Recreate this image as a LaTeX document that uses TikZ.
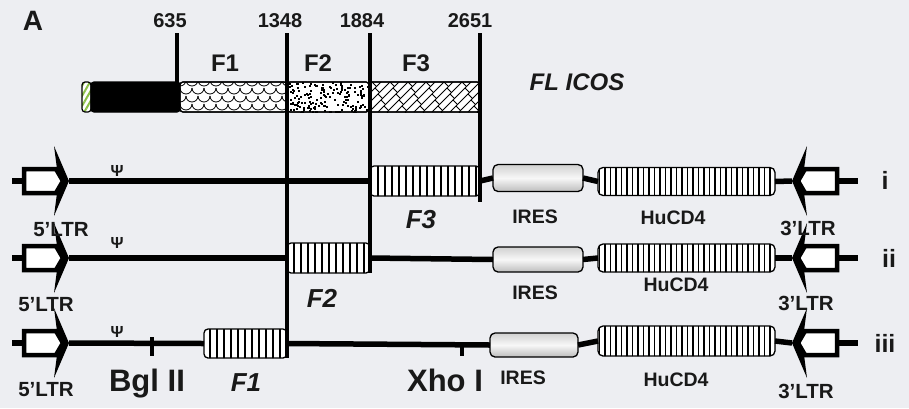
\documentclass[tikz,border=0pt]{standalone}
\usepackage{fontspec}
\setmainfont{Liberation Sans}
\usetikzlibrary{patterns,patterns.meta}
\definecolor{bg}{RGB}{237,238,242}
\definecolor{lgreen}{RGB}{140,192,72}
\newcommand{\fsz}[1]{\fontsize{#1}{#1}\selectfont\bfseries}
\begin{document}
\begin{tikzpicture}[x=1pt,y=-1pt,
  dna/.style={line width=5.5pt},
  vline/.style={line width=3.5pt},
  cutmark/.style={line width=3.5pt},
  lbl/.style={inner sep=0pt, outer sep=0pt, text=black!90},
  num/.style={lbl, font=\fsz{20pt}},
  seglab/.style={lbl, font=\fsz{24pt}},
  fraglab/.style={lbl, font=\fsz{26pt}\itshape},
  ltrlab/.style={lbl, font=\fsz{20.5pt}},
  boxlab/.style={lbl, font=\fsz{19.5pt}},
  enzlab/.style={lbl, font=\fsz{31pt}, anchor=base},
  rowlab/.style={lbl, font=\fsz{25pt}},
  psilab/.style={lbl, font=\fsz{16pt}},
  seg/.style={rectangle, rounded corners=3pt, draw, line width=1.2pt, minimum height=30pt, inner sep=0pt, outer sep=0pt, fill=white},
  fbox/.style={rectangle, rounded corners=4pt, draw, line width=1.3pt, inner sep=0pt, outer sep=0pt, minimum height=30pt, preaction={fill=white}, pattern={Lines[angle=90,distance=7pt,line width=1.2pt]}},
  cdbox/.style={rectangle, rounded corners=5pt, draw, line width=1.3pt, inner sep=0pt, outer sep=0pt, minimum width=177pt, minimum height=28pt, preaction={fill=white}, pattern={Lines[angle=90,distance=5.5pt,line width=1.2pt]}},
  iresbox/.style={rectangle, rounded corners=5pt, draw, line width=1.3pt, inner sep=0pt, outer sep=0pt, minimum height=26pt, top color=black!18, bottom color=black!26, middle color=black!3},
  ltr/.pic={
    \fill (-15,-35) -- (0,0) -- (-15,35) -- (-12,12) -- (-12,-12) -- cycle;
    \draw[line width=4.5pt, fill=white, line join=miter] (-45,-12) -- (-13,-12) -- (-6,0) -- (-13,12) -- (-45,12) -- cycle;
    \coordinate (-tip) at (0,0);
    \coordinate (-back) at (-45,0);
  }
]
\fill[bg] (0,0) rectangle (909,408);
\useasboundingbox (0,0) rectangle (909,408);

% ---------- top bar ----------
\node[seg, minimum width=9pt, preaction={fill=white}, pattern={Lines[angle=60,distance=5pt,line width=2pt]}, pattern color=lgreen] (gs) at (86.5,97) {};
\node[seg, minimum width=89pt, fill=black] (bs) at (135.5,97) {};
\node[seg, minimum width=107pt] (f1s) at (233.5,97) {};
\node[seg, minimum width=82pt] (f2s) at (328,97) {};
\node[seg, minimum width=111pt] (f3s) at (424.5,97) {};

\begin{scope}
  \clip[rounded corners=3pt] (f1s.north west) rectangle (f1s.south east);
  \foreach \r in {0,...,4}{
    \foreach \c in {0,...,9}{
      \draw[line width=0.8pt] ({180+\c*12+mod(\r,2)*6-6},{80+\r*8}) arc[start angle=180, end angle=0, radius=6];
    }
  }
\end{scope}
\pgfmathsetseed{7}
\begin{scope}
  \clip (f2s.north west) rectangle (f2s.south east);
  \foreach \i in {1,...,170}{
    \pgfmathsetmacro\dx{287+82*rnd}
    \pgfmathsetmacro\dy{82+30*rnd}
    \fill (\dx,\dy) rectangle ++(2,2);
  }
\end{scope}
\begin{scope}
  \clip (f3s.north west) rectangle (f3s.south east);
  \foreach \k in {0,...,18}{
    \pgfmathsetmacro\xo{333+9*\k}
    \draw[line width=0.8pt] (\xo,112) -- ++(32,-32);
    \foreach \t in {0,12,24}{
      \draw[line width=0.8pt] ({\xo+\t+6*mod(\k,2)},{112-\t-6*mod(\k,2)}) -- ++(4.5,4.5);
    }
  }
\end{scope}
\draw[line width=1.2pt, rounded corners=3pt] (f1s.north west) rectangle (f1s.south east);
\draw[line width=1.2pt, rounded corners=3pt] (f2s.north west) rectangle (f2s.south east);
\draw[line width=1.2pt, rounded corners=3pt] (f3s.north west) rectangle (f3s.south east);

\node[lbl, font=\fsz{28pt}] (la) at (33,21) {A};
\node[num] (n635) at (170,21) {635};
\node[num] (n1348) at (280,21) {1348};
\node[num] (n1884) at (362,21) {1884};
\node[num] (n2651) at (470,21) {2651};
\node[seglab] (sf1) at (225,63) {F1};
\node[seglab] (sf2) at (318,63) {F2};
\node[seglab] (sf3) at (416,63) {F3};
\node[lbl, font=\fsz{24pt}\itshape] (flicos) at (577,82) {FL ICOS};

% ---------- rows ----------
% row i
\pic (L1) at (69,181) {ltr};
\pic[xscale=-1] (R1) at (792,181) {ltr};
\coordinate (L1end) at (12,181);
\coordinate (R1end) at (858,181);
\node[fbox, minimum width=110pt] (r1f) at (425,181) {};
\node[iresbox, minimum width=90pt, minimum height=27pt] (r1ires) at (538,178) {};
\node[cdbox] (r1cd) at (686.5,181.5) {};
\draw[dna] (L1end) -- (L1-back);
\draw[dna] (L1-tip) -- (r1f.west);
\draw[dna] (r1f.east) -- (r1ires.west);
\draw[dna] (r1ires.east) -- (r1cd.west);
\draw[dna] (r1cd.east) -- (R1-tip);
\draw[dna] (R1-back) -- (R1end);

% row ii
\pic (L2) at (69,258) {ltr};
\pic[xscale=-1] (R2) at (792,258) {ltr};
\coordinate (L2end) at (12,258);
\coordinate (R2end) at (858,258);
\node[fbox, minimum width=83pt] (r2f) at (328.5,258) {};
\node[iresbox, minimum width=90pt, minimum height=25pt] (r2ires) at (538,259.5) {};
\node[cdbox] (r2cd) at (686.5,258) {};
\draw[dna] (L2end) -- (L2-back);
\draw[dna] (L2-tip) -- (r2f.west);
\draw[dna] (r2f.east) -- (r2ires.west);
\draw[dna] (r2ires.east) -- (r2cd.west);
\draw[dna] (r2cd.east) -- (R2-tip);
\draw[dna] (R2-back) -- (R2end);

% row iii
\pic (L3) at (69,343) {ltr};
\pic[xscale=-1] (R3) at (792,343) {ltr};
\coordinate (L3end) at (12,343);
\coordinate (R3end) at (858,343);
\node[fbox, minimum width=83pt, minimum height=29pt] (r3f) at (245.5,343.5) {};
\node[iresbox, minimum width=88pt, minimum height=24pt] (r3ires) at (534,345) {};
\node[cdbox, minimum height=30pt] (r3cd) at (686.5,341) {};
\draw[dna] (L3end) -- (L3-back);
\draw[dna] (L3-tip) -- (r3f.west);
\draw[dna] (r3f.east) -- (r3ires.west);
\draw[dna] (r3ires.east) -- (r3cd.west);
\draw[dna] (r3cd.east) -- (R3-tip);
\draw[dna] (R3-back) -- (R3end);

% cut sites
\coordinate (bglT) at (152,337);
\coordinate (bglB) at (152,356);
\coordinate (xhoT) at (462,343);
\coordinate (xhoB) at (462,356);
\draw[cutmark] (bglT) -- (bglB);
\draw[cutmark] (xhoT) -- (xhoB);

% vertical boundary lines
\coordinate (t635) at (177,33);
\coordinate (b635) at (177,82);
\coordinate (t1348) at (287,33);
\coordinate (t1884) at (370,33);
\coordinate (t2651) at (480,33);
\coordinate (b2651) at (480,202);
\draw[vline] (t635) -- (b635);
\draw[vline] (t1348) -- (r3f.south east);
\draw[vline] (t1884) -- (r2f.south east);
\draw[vline] (t2651) -- (b2651);

% ---------- labels ----------
\node[psilab] (psi1) at (117,171) {Ψ};
\node[psilab] (psi2) at (117,243) {Ψ};
\node[psilab] (psi3) at (117,332) {Ψ};
\node[ltrlab] (l5a) at (61,230) {5'LTR};
\node[ltrlab] (l5b) at (46,305) {5'LTR};
\node[ltrlab] (l5c) at (46,390) {5'LTR};
\node[ltrlab] (l3a) at (808,228) {3'LTR};
\node[ltrlab] (l3b) at (806,303) {3'LTR};
\node[ltrlab] (l3c) at (806,391) {3'LTR};
\node[boxlab] (ia) at (535,217) {IRES};
\node[boxlab] (ib) at (535,293) {IRES};
\node[boxlab] (ic) at (523,378) {IRES};
\node[boxlab] (ha) at (673,218) {HuCD4};
\node[boxlab] (hb) at (676,285) {HuCD4};
\node[boxlab] (hc) at (676,380) {HuCD4};
\node[fraglab] (ff3) at (421,220) {F3};
\node[fraglab] (ff2) at (322,298) {F2};
\node[fraglab] (ff1) at (246,383) {F1};
\node[enzlab] (bgl) at (147,391) {Bgl II};
\node[enzlab] (xho) at (445,391) {Xho I};
\node[rowlab] (ri) at (885,180) {i};
\node[rowlab] (rii) at (889,258) {ii};
\node[rowlab] (riii) at (885,343) {iii};
\end{tikzpicture}
\end{document}
